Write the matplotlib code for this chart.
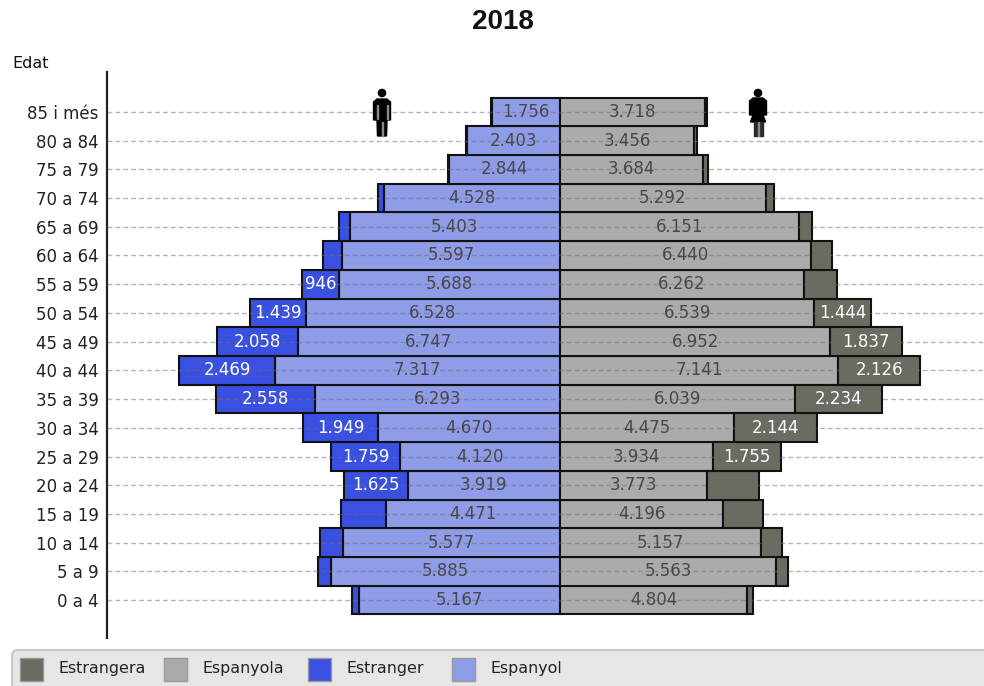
"""Population pyramid 2018 by age, sex and nationality."""

import matplotlib

matplotlib.use("Agg")
import matplotlib.pyplot as plt
from matplotlib.patches import Circle, FancyBboxPatch, Polygon, Rectangle

AGES = [
    "0 a 4", "5 a 9", "10 a 14", "15 a 19", "20 a 24", "25 a 29", "30 a 34", "35 a 39", "40 a 44",
    "45 a 49", "50 a 54", "55 a 59", "60 a 64", "65 a 69", "70 a 74", "75 a 79", "80 a 84", "85 i més",
]
ESPANYOL = [5167, 5885, 5577, 4471, 3919, 4120, 4670, 6293, 7317, 6747, 6528, 5688, 5597, 5403, 4528, 2844, 2403, 1756]
ESTRANGER = [180, 335, 590, 1160, 1625, 1759, 1949, 2558, 2469, 2058, 1439, 946, 490, 280, 150, 30, 15, 20]
ESPANYOLA = [4804, 5563, 5157, 4196, 3773, 3934, 4475, 6039, 7141, 6952, 6539, 6262, 6440, 6151, 5292, 3684, 3456, 3718]
ESTRANGERA = [160, 310, 540, 1030, 1340, 1755, 2144, 2234, 2126, 1837, 1444, 870, 560, 340, 200, 130, 70, 70]
# the foreign segments only carry a label from these age groups on the original
ESTRANGER_LABELLED = ["20 a 24", "25 a 29", "30 a 34", "35 a 39", "40 a 44", "45 a 49", "50 a 54", "55 a 59"]
ESTRANGERA_LABELLED = ["25 a 29", "30 a 34", "35 a 39", "40 a 44", "45 a 49", "50 a 54"]

LEGEND_LABELS = ["Estrangera", "Espanyola", "Estranger", "Espanyol"]
COLORS = ["#6b6b62", "#ababab", "#3a50e0", "#8f9ce8"]
DARK_TEXT = "#484848"


def fmt(value):
    return f"{value:,}".replace(",", ".")


def draw_man(ov, cx):
    ov.add_patch(Circle((cx, 93), 3.6, color="black"))
    ov.add_patch(Polygon([(cx - 5, 99), (cx + 5, 99), (cx + 8.5, 102), (cx + 8.5, 120), (cx + 5, 120),
                          (cx + 4.5, 136), (cx - 4.5, 136), (cx - 5, 120), (cx - 8.5, 120), (cx - 8.5, 102)],
                         color="black"))
    ov.add_patch(Rectangle((cx - 5.5, 105), 1, 14, color="#8a8a8a"))
    ov.add_patch(Rectangle((cx + 4.5, 105), 1, 14, color="#8a8a8a"))
    ov.add_patch(Rectangle((cx - 0.5, 122), 1, 14, color="#8a8a8a"))


def draw_woman(ov, cx):
    ov.add_patch(Circle((cx, 93), 3.6, color="black"))
    ov.add_patch(Polygon([(cx - 5, 98), (cx + 5, 98), (cx + 8.5, 101), (cx + 8.5, 115), (cx + 5, 115),
                          (cx + 7.5, 122), (cx - 7.5, 122), (cx - 5, 115), (cx - 8.5, 115), (cx - 8.5, 101)],
                         color="black"))
    ov.add_patch(Rectangle((cx - 4.5, 122), 4, 14, color="#2a2a2a"))
    ov.add_patch(Rectangle((cx + 0.5, 122), 4, 14, color="#2a2a2a"))
    ov.add_patch(Rectangle((cx - 0.5, 122), 1, 14, color="#8a8a8a"))


def main():
    plt.rcParams["font.family"] = "DejaVu Sans"
    fig = plt.figure(figsize=(9.84, 6.86), dpi=100)
    ax = fig.add_axes([107 / 984, 1 - 638 / 686, 877 / 984, 566 / 686])

    y = list(range(len(AGES)))
    edge = dict(height=1.0, edgecolor="#111111", linewidth=1.5, zorder=2)
    ax.barh(y, [-v for v in ESPANYOL], color=COLORS[3], **edge)
    ax.barh(y, [-v for v in ESTRANGER], left=[-v for v in ESPANYOL], color=COLORS[2], **edge)
    ax.barh(y, ESPANYOLA, color=COLORS[1], **edge)
    ax.barh(y, ESTRANGERA, left=ESPANYOLA, color=COLORS[0], **edge)

    ax.set_xlim(-11645, 10900)
    ax.set_ylim(-1.32, 18.39)
    ax.set_yticks(y)
    ax.set_yticklabels(AGES, fontsize=12, color="#222222")
    ax.set_xticks([])
    ax.tick_params(axis="y", length=0, pad=6)
    # dashed guides run over the bars as well
    for pos in y:
        ax.axhline(pos, linestyle=(0, (3.5, 2.2)), linewidth=1.0, color="#6e6e6e", alpha=0.5, zorder=3)
    for side in ["top", "right", "bottom"]:
        ax.spines[side].set_visible(False)
    ax.spines["left"].set_linewidth(1.6)
    ax.spines["left"].set_color("#222222")

    text = dict(ha="center", va="center", fontsize=12, zorder=4)
    for i, age in enumerate(AGES):
        ax.text(-ESPANYOL[i] / 2, i, fmt(ESPANYOL[i]), color=DARK_TEXT, **text)
        ax.text(ESPANYOLA[i] / 2, i, fmt(ESPANYOLA[i]), color=DARK_TEXT, **text)
        if age in ESTRANGER_LABELLED:
            ax.text(-ESPANYOL[i] - ESTRANGER[i] / 2, i, fmt(ESTRANGER[i]), color="white", **text)
        if age in ESTRANGERA_LABELLED:
            ax.text(ESPANYOLA[i] + ESTRANGERA[i] / 2, i, fmt(ESTRANGERA[i]), color="white", **text)

    # overlay in pixel coordinates for title, icons and the legend strip
    ov = fig.add_axes([0, 0, 1, 1], zorder=5)
    ov.set_xlim(0, 984)
    ov.set_ylim(686, 0)
    ov.axis("off")
    ov.text(503, 22, "2018", ha="center", va="center", fontsize=20, fontweight="bold",
            family="Liberation Sans", color="#111111")
    ov.text(12, 63, "Edat", ha="left", va="center", fontsize=11.5, color="#111111")
    draw_man(ov, 382)
    draw_woman(ov, 758)

    ov.add_patch(FancyBboxPatch((12, 650), 1000, 60, boxstyle="round,pad=0,rounding_size=6",
                                facecolor="#e6e6e6", edgecolor="#cccccc", linewidth=1.6, mutation_aspect=1))
    for k, (label, color) in enumerate(zip(LEGEND_LABELS, COLORS, strict=True)):
        x0 = 20 + 144 * k
        ov.add_patch(Rectangle((x0, 658), 23, 23, facecolor=color, edgecolor="#999999", linewidth=1))
        ov.text(x0 + 38, 668, label, ha="left", va="center", fontsize=11.4, color="#222222")

    fig.savefig("out.png", dpi=100)
    plt.close(fig)


if __name__ == "__main__":
    main()
